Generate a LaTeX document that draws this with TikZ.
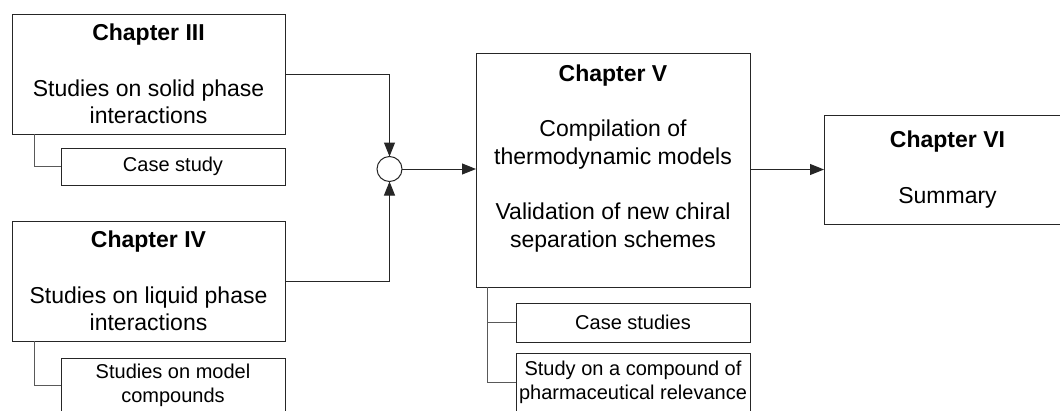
\documentclass[tikz,border=0pt]{standalone}
\usepackage{fontspec}
\setmainfont{Liberation Sans}
\usetikzlibrary{arrows.meta}

\begin{document}
\begin{tikzpicture}[x=1pt,y=-1pt,
  chap/.style={draw=black!85,line width=1pt,inner sep=0pt,outer sep=0pt,align=center,
    font=\fontsize{23}{27.6}\selectfont},
  sub/.style={draw=black!85,line width=1pt,inner sep=0pt,outer sep=0pt,align=center,
    font=\fontsize{20}{24}\selectfont},
  tree/.style={draw=black!65,line width=1pt},
  flow/.style={draw=black!85,line width=1pt,-{Triangle[length=14pt,width=11pt]}}]
\useasboundingbox (0,0) rectangle (1060,410);
\clip (0,0) rectangle (1060,410);
% chapters
\node[chap,minimum width=273,minimum height=120] (ch3) at (148.5,74)
  {\textbf{Chapter III}\\[27.6pt]Studies on solid phase\\interactions};
\node[chap,minimum width=273,minimum height=120] (ch4) at (148.5,281)
  {\textbf{Chapter IV}\\[27.6pt]Studies on liquid phase\\interactions};
\node[chap,minimum width=274,minimum height=234] (ch5) at (613,170)
  {\textbf{Chapter V}\\[27.6pt]Compilation of\\thermodynamic models\\[27.6pt]Validation of new chiral\\separation schemes\\~};
\node[chap,minimum width=247,minimum height=109] (ch6) at (947.5,169.5)
  {\textbf{Chapter VI}\\[27.6pt]Summary};
% sub items
\node[sub,minimum width=224,minimum height=37] (cs3) at (173,166.5) {Case study};
\node[sub,minimum width=224,minimum height=54] (ms4) at (173,385) {Studies on model\\compounds};
\node[sub,minimum width=234,minimum height=39] (cs5) at (633,322.5) {Case studies};
\node[sub,minimum width=234,minimum height=59] (pc5) at (633,382.5) {Study on a compound of\\pharmaceutical relevance};
% junction
\node[draw=black!85,line width=1pt,circle,minimum size=25,inner sep=0pt,outer sep=0pt] (join) at (389.5,169) {};
% connectors
\draw[flow] (ch3.east) -| (join.north);
\draw[flow] (ch4.east) -| (join.south);
\draw[flow] (join.east) -- (join.east -| ch5.west);
\draw[flow] (ch5.east |- ch6.west) -- (ch6.west);
\draw[tree] (ch3.south west) ++(22,0) |- (cs3.west);
\draw[tree] (ch4.south west) ++(22,0) |- (ms4.west);
\draw[tree] (ch5.south west) ++(11,0) |- (cs5.west);
\draw[tree] (ch5.south west) ++(11,0) |- (pc5.west);
\end{tikzpicture}
\end{document}
